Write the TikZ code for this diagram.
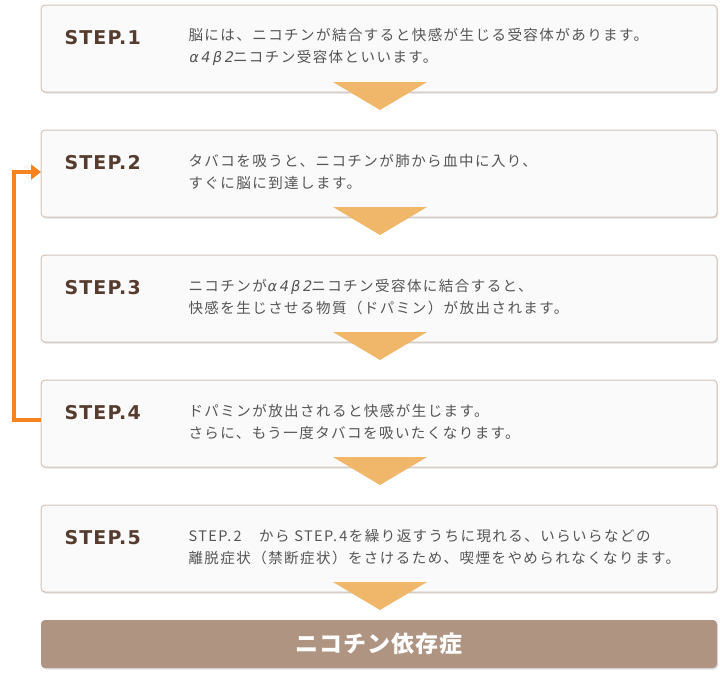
\documentclass[tikz,border=0pt]{standalone}
\usepackage{fontspec}
\usetikzlibrary{shapes, arrows.meta, positioning, calc, shadows}
\newfontfamily\jpfont{Noto Sans CJK JP}[LetterSpace=10]
\newfontfamily\jpheadfont{Noto Sans CJK JP}[LetterSpace=5]
\newfontfamily\stepfont{DejaVu Sans}[LetterSpace=6]
\newfontfamily\greekfont{DejaVu Sans}[FakeSlant=0.2]
\newcommand{\abeta}{{\greekfont α\,4\,β\,2}}
\definecolor{boxfill}{HTML}{FAFAFA}
\definecolor{boxline}{HTML}{D3C3B8}
\definecolor{steptext}{HTML}{553C2E}
\definecolor{desctext}{HTML}{555555}
\definecolor{tri}{HTML}{F0B66A}
\definecolor{loopcol}{HTML}{F7841E}
\definecolor{barfill}{HTML}{AF9482}
\tikzstyle{stepbox} = [rectangle, rounded corners=4pt, minimum width=676pt, minimum height=87pt, outer sep=0pt, draw=boxline, line width=1pt, fill=boxfill, drop shadow={shadow xshift=1pt, shadow yshift=-1.5pt, fill=black!25}]
\tikzstyle{steplabel} = [anchor=west, text=steptext, font=\stepfont\bfseries\fontsize{19}{22}\selectfont]
\tikzstyle{desc} = [anchor=west, align=left, text=desctext, font=\jpfont\fontsize{14.5}{22}\selectfont]
\tikzstyle{downtri} = [fill=tri]
\tikzstyle{loopline} = [draw=loopcol, line width=4pt, -{Triangle[length=10pt, width=15pt]}]
\tikzstyle{result} = [rectangle, rounded corners=4pt, minimum width=676pt, minimum height=48pt, outer sep=0pt, fill=barfill, text=white, drop shadow={shadow xshift=1pt, shadow yshift=-1.5pt, fill=black!25}, font=\jpheadfont\bfseries\fontsize{23}{28}\selectfont]

\begin{document}
\begin{tikzpicture}[x=1pt, y=1pt]
\useasboundingbox (0,0) rectangle (720,-680);

% Boxes
\node (s1) [stepbox] at (379,-48.5) {};
\node (s2) [stepbox, below=38pt of s1] {};
\node (s3) [stepbox, below=38pt of s2] {};
\node (s4) [stepbox, below=38pt of s3] {};
\node (s5) [stepbox, below=38pt of s4] {};
\node (dep) [result, below=28pt of s5] {ニコチン依存症};

% Labels
\node (l1) [steplabel] at ($(s1.north west)+(20,-33)$) {STEP.1};
\node (l2) [steplabel] at ($(s2.north west)+(20,-33)$) {STEP.2};
\node (l3) [steplabel] at ($(s3.north west)+(20,-33)$) {STEP.3};
\node (l4) [steplabel] at ($(s4.north west)+(20,-33)$) {STEP.4};
\node (l5) [steplabel] at ($(s5.north west)+(20,-33)$) {STEP.5};

\node (d1) [desc] at ($(s1.north west)+(144,-42)$) {脳には、ニコチンが結合すると快感が生じる受容体があります。\\\abeta ニコチン受容体といいます。};
\node (d2) [desc] at ($(s2.north west)+(144,-42)$) {タバコを吸うと、ニコチンが肺から血中に入り、\\すぐに脳に到達します。};
\node (d3) [desc] at ($(s3.north west)+(144,-42)$) {ニコチンが\abeta ニコチン受容体に結合すると、\\快感を生じさせる物質（ドパミン）が放出されます。};
\node (d4) [desc] at ($(s4.north west)+(144,-42)$) {ドパミンが放出されると快感が生じます。\\さらに、もう一度タバコを吸いたくなります。};
\node (d5) [desc] at ($(s5.north west)+(144,-42)$) {STEP.\,2　から STEP.\,4を繰り返すうちに現れる、いらいらなどの\\離脱症状（禁断症状）をさけるため、喫煙をやめられなくなります。};

% Arrows
\fill [downtri] ($(s1.south)+(-46,10)$) -- ($(s1.south)+(48,10)$) -- ($(s1.south)+(1,-18)$) -- cycle;
\fill [downtri] ($(s2.south)+(-46,10)$) -- ($(s2.south)+(48,10)$) -- ($(s2.south)+(1,-18)$) -- cycle;
\fill [downtri] ($(s3.south)+(-46,10)$) -- ($(s3.south)+(48,10)$) -- ($(s3.south)+(1,-18)$) -- cycle;
\fill [downtri] ($(s4.south)+(-46,10)$) -- ($(s4.south)+(48,10)$) -- ($(s4.south)+(1,-18)$) -- cycle;
\fill [downtri] ($(s5.south)+(-46,10)$) -- ($(s5.south)+(48,10)$) -- ($(s5.south)+(1,-18)$) -- cycle;
\draw [loopline] ([yshift=4pt]s4.west) -- ++(-27,0) |- ([yshift=1.5pt]s2.west);

\end{tikzpicture}
\end{document}
